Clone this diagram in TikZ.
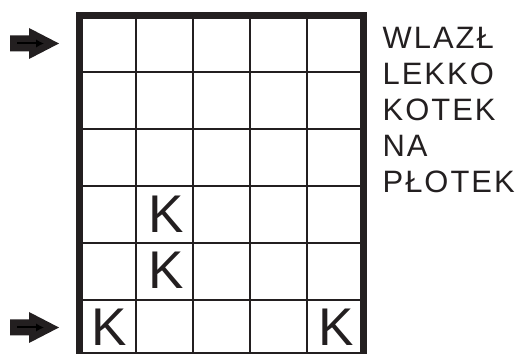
\documentclass[tikz,border=0pt]{standalone}
\usepackage{fontspec}
\setmainfont{Liberation Sans}
\usetikzlibrary{positioning, arrows.meta}

\definecolor{inkgray}{HTML}{231F20}

\begin{document}
\begin{tikzpicture}[x=0.02cm, y=-0.02cm, >=Latex,
    letter/.style={inner sep=0pt, text=inkgray, font=\fontsize{30.2}{30.2}\selectfont},
    verse/.style={inner sep=0pt, align=left, text=inkgray, font=\fontsize{17.6}{20.5}\selectfont\addfontfeature{LetterSpace=6.5}},
    gridline/.style={draw=inkgray, line width=0.04cm},
    fatarrow/.style={fill=inkgray}]
    \useasboundingbox (0,0) rectangle (518,354);

    % grid
    \foreach \x in {136.3, 193.1, 249.9, 306.7}
        \draw[gridline] (\x,15.5) -- (\x,355.5);
    \foreach \y in {72.5, 129.5, 186.5, 243.5, 300.5}
        \draw[gridline] (79.5,\y) -- (363.5,\y);
    \draw[inkgray, line width=0.14cm] (79.5,15.5) rectangle (363.5,355.5);

    % letters in the cells
    \node[letter] (kfirst) at (109,327) {K};
    \node[letter] (klast) at (336,327) {K};
    \node[letter] (kmidup) at (166,214) {K};
    \node[letter] (kmiddown) at (166,270.5) {K};

    % entry arrows
    \foreach \y/\name in {43.5/top, 327.5/bottom} {
        \fill[fatarrow] (10,\y-8) -- (29,\y-8) -- (29,\y-15.5) -- (59,\y)
            -- (29,\y+15.5) -- (29,\y+8) -- (10,\y+8) -- cycle;
        \coordinate (\name tail) at (17,\y);
        \coordinate (\name head) at (44,\y);
        \draw[black, line width=0.04cm, -{Latex[length=0.16cm, width=0.17cm]}] (\name tail) -- (\name head);
    }

    % verse
    \node[verse, anchor=north west] (verse) at (382.3,26.7) {WLAZŁ\\LEKKO\\KOTEK\\NA\\PŁOTEK};
\end{tikzpicture}
\end{document}
